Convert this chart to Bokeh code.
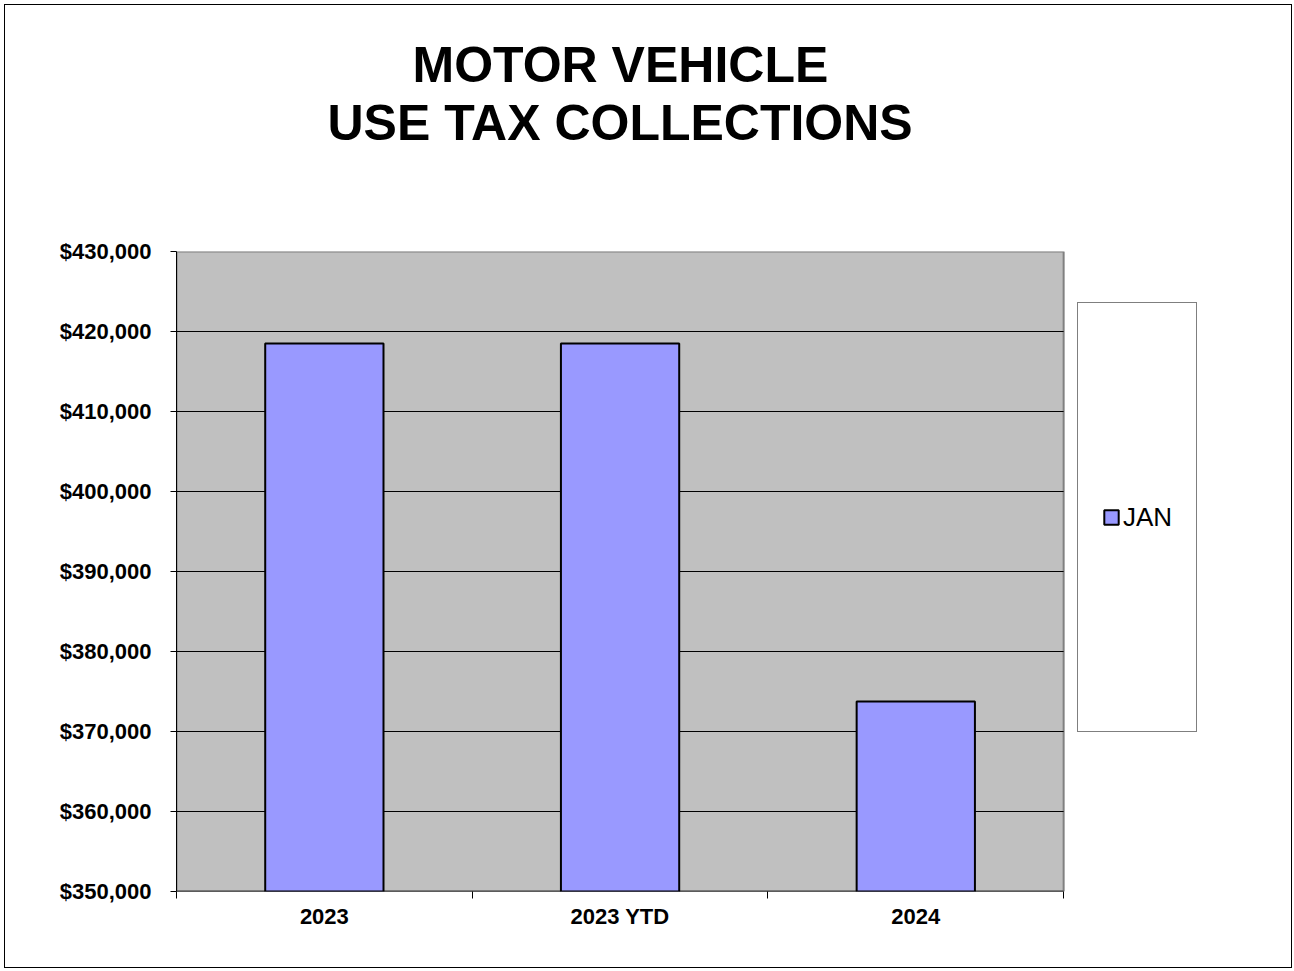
from bokeh.plotting import figure
from bokeh.models import (Legend, LegendItem, FixedTicker, NumeralTickFormatter,
                          Title, ColumnDataSource, Range1d)
from bokeh.embed import file_html
from bokeh.resources import INLINE

title_lines = ["MOTOR VEHICLE", "USE TAX COLLECTIONS"]
categories = ["2023", "2023 YTD", "2024"]
jan_values = [418500, 418500, 373750]
series_name = "JAN"
y_min, y_max, y_step = 350000, 430000, 10000

n = len(categories)
xs = [i + 0.5 for i in range(n)]
yticks = list(range(y_min, y_max + 1, y_step))
src = ColumnDataSource(dict(x=xs, top=jan_values, cat=categories))

W, H = 1288, 964
# the frame also holds the legend column to the right of the plot area
p = figure(width=W, height=H, output_backend="svg", toolbar_location=None,
           x_range=Range1d(0, n + 0.5), y_range=Range1d(y_min, y_max),
           min_border_left=171, min_border_right=82, min_border_top=246,
           min_border_bottom=78)
p.styles = {"border": "1px solid black", "margin": "4px 0 0 4px"}
p.background_fill_color = "white"
p.border_fill_color = "white"
p.outline_line_color = None

# grey plot area, grid lines, base line
p.quad(left=[0], right=[n], bottom=[y_min], top=[y_max],
       fill_color="#C0C0C0", line_color="#808080", line_width=2)
inner = yticks[1:-1]
p.segment(x0=[0] * len(inner), x1=[n] * len(inner), y0=inner, y1=inner,
          line_color="black", line_width=1)
p.segment(x0=[0], x1=[n], y0=[y_min], y1=[y_min], line_color="black", line_width=1.5)

r = p.vbar(x="x", top="top", bottom=y_min, width=0.4, source=src,
           fill_color="#9999FF", line_color="black", line_width=2)

# title: spacer nearest the plot, then the two lines centred over the plot area
p.title = None
p.add_layout(Title(text=" ", text_font_size="1px", standoff=98), "above")
title_offsets = {"MOTOR VEHICLE": 236, "USE TAX COLLECTIONS": 151}
for line in reversed(title_lines):
    p.add_layout(Title(text=line, align="left", offset=title_offsets[line],
                       text_font="Liberation Sans",
                       text_font_size="50px", text_font_style="bold",
                       text_color="black", standoff=0), "above")

# y axis
p.yaxis.ticker = FixedTicker(ticks=yticks)
p.yaxis.formatter = NumeralTickFormatter(format="$0,0")
p.yaxis.major_label_text_font = "Liberation Sans"
p.yaxis.major_label_text_font_style = "bold"
p.yaxis.major_label_text_font_size = "22px"
p.yaxis.major_label_text_color = "black"
p.yaxis.major_tick_out = 6
p.yaxis.major_tick_in = 0
p.yaxis.minor_tick_line_color = None
p.yaxis.major_label_standoff = 19
p.yaxis.axis_line_color = "black"
p.yaxis.major_tick_line_color = "black"

# x axis: labels at category centres, ticks at category boundaries
p.xaxis.ticker = FixedTicker(ticks=xs, minor_ticks=list(range(n + 1)))
p.xaxis.major_label_overrides = {x: c for x, c in zip(xs, categories)}
p.xaxis.major_tick_out = 0
p.xaxis.major_tick_in = 0
p.xaxis.minor_tick_out = 7
p.xaxis.minor_tick_in = 0
p.xaxis.minor_tick_line_color = "black"
p.xaxis.major_label_text_font = "Liberation Sans"
p.xaxis.major_label_text_font_style = "bold"
p.xaxis.major_label_text_font_size = "22px"
p.xaxis.major_label_text_color = "black"
p.xaxis.major_label_standoff = 5
p.xaxis.axis_line_color = None

p.xgrid.grid_line_color = None
p.ygrid.grid_line_color = None

legend = Legend(items=[LegendItem(label=series_name, renderers=[r])],
                location=(901, 159), padding=24, glyph_width=18, glyph_height=18,
                label_standoff=3, label_height=380, spacing=0,
                label_text_font="Liberation Sans", label_text_font_size="26px",
                label_text_color="black",
                border_line_color="black", border_line_width=1,
                background_fill_color="white", background_fill_alpha=1)
p.add_layout(legend)

open("out.html", "w").write(file_html(p, INLINE))
